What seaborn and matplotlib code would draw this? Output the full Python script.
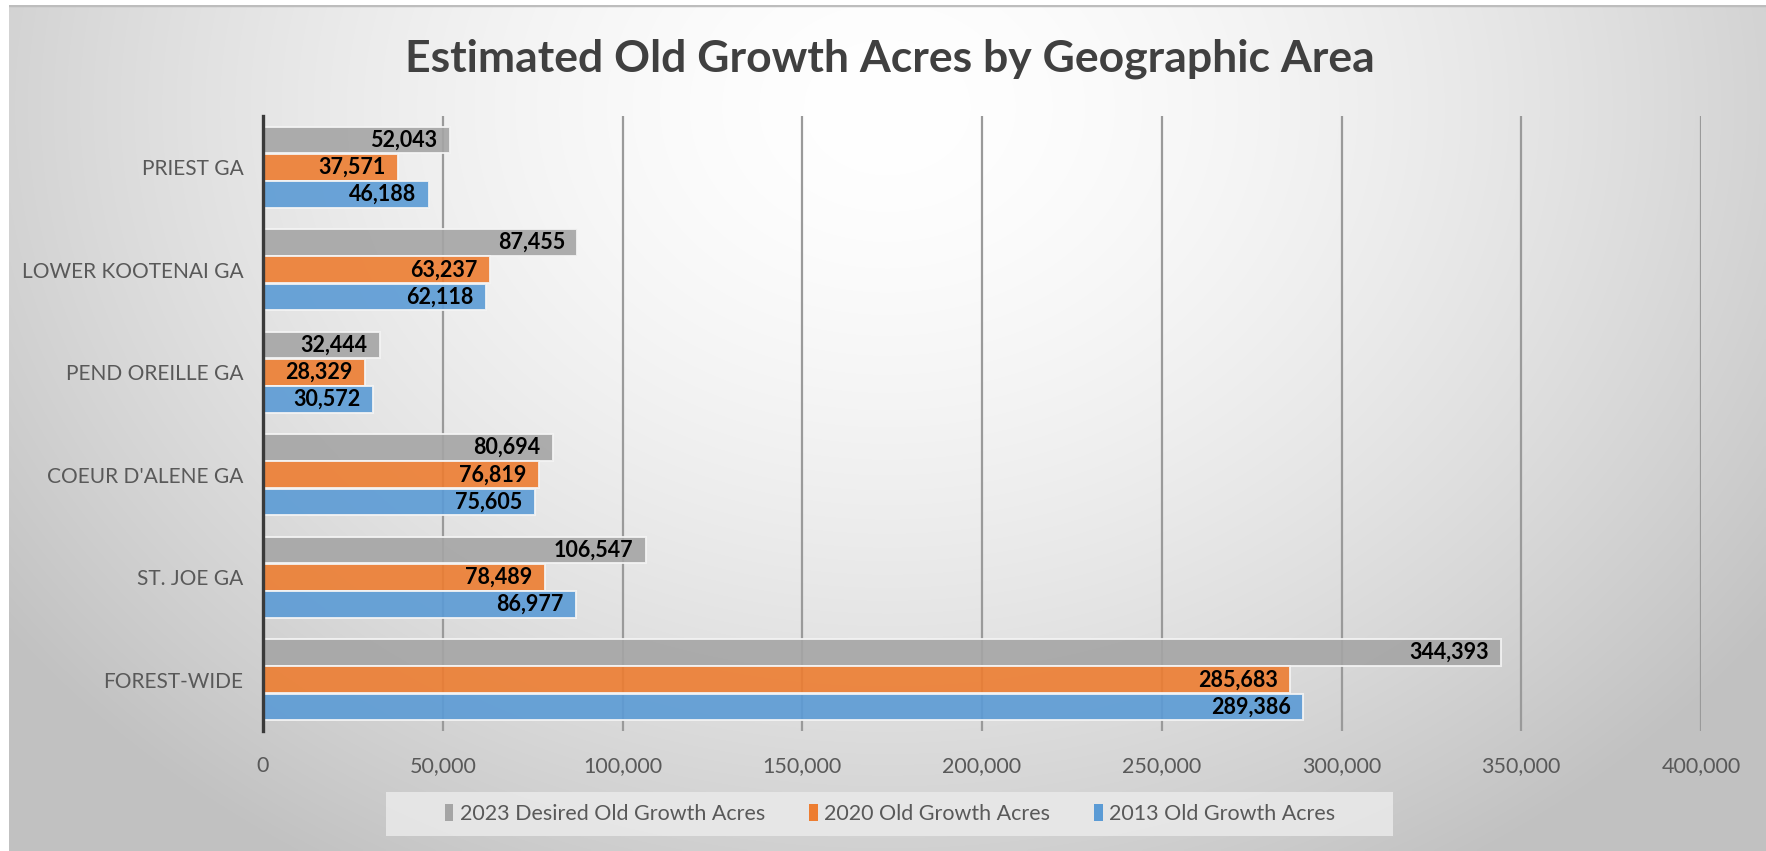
import numpy as np
import pandas as pd
import matplotlib
matplotlib.use("Agg")
import matplotlib.pyplot as plt
from matplotlib.patches import Patch, Rectangle
from matplotlib.ticker import FuncFormatter
import seaborn as sns

# ---- data -------------------------------------------------------------
areas = ["PRIEST GA", "LOWER KOOTENAI GA", "PEND OREILLE GA",
         "COEUR D'ALENE GA", "ST. JOE GA", "FOREST-WIDE"]
series_names = ["2023 Desired Old Growth Acres",
                "2020 Old Growth Acres",
                "2013 Old Growth Acres"]
desired_2023 = [52043, 87455, 32444, 80694, 106547, 344393]
old_growth_2020 = [37571, 63237, 28329, 76819, 78489, 285683]
old_growth_2013 = [46188, 62118, 30572, 75605, 86977, 289386]
series_colors = ["#A5A5A5", "#ED7D31", "#5B9BD5"]
x_ticks = [0, 50000, 100000, 150000, 200000, 250000, 300000, 350000, 400000]

values = [desired_2023, old_growth_2020, old_growth_2013]
df = pd.DataFrame({
    "area": np.tile(areas, len(series_names)),
    "series": np.repeat(series_names, len(areas)),
    "acres": np.concatenate(values),
})

sns.set_theme(style="white")
plt.rcParams["font.family"] = ["Lato", "DejaVu Sans"]

W, H = 1766, 851
fig = plt.figure(figsize=(W / 100, H / 100), dpi=100)
fig.patch.set_facecolor("white")

# radial grey gradient backdrop
bg = fig.add_axes([9 / W, 0, 1 - 9 / W, 1 - 5 / H], zorder=-10)
gx = np.linspace(0, 1, 600)
gy = np.linspace(0, 1, 300)
XX, YY = np.meshgrid(gx, gy)
r = np.sqrt(((XX - 0.5) / 0.62) ** 2 + ((YY - 0.12) / 1.05) ** 2)
shade = np.clip(1.0 - 0.24 * r ** 1.6, 0.76, 1.0)
bg.imshow(np.dstack([shade] * 3), aspect="auto", extent=[0, 1, 1, 0],
          interpolation="bilinear")
bg.axhline(0.0, color="#BDBDBD", lw=2.5)
bg.set_axis_off()

ax = fig.add_axes([263 / W, 1 - 731 / H, (1701 - 263) / W, (731 - 116) / H])
ax.patch.set_alpha(0)

sns.barplot(data=df, y="area", x="acres", hue="series", orient="h",
            order=areas, hue_order=series_names, palette=series_colors,
            saturation=1, width=0.8, gap=0.02, alpha=0.9,
            edgecolor="#F4F4F4", linewidth=1.4, ax=ax, legend=False, zorder=3)

for container, vals in zip(ax.containers, values):
    for patch, v in zip(container.patches, vals):
        yc = patch.get_y() + patch.get_height() / 2
        ax.annotate(f"{v:,}", xy=(v, yc), xytext=(-9, 0),
                    textcoords="offset points", ha="right", va="center",
                    fontsize=15.5, fontweight="bold", color="black", zorder=5)

ax.set_xlim(0, 400000)
ax.set_ylim(5.5, -0.5)
ax.set_xticks(x_ticks)
ax.xaxis.set_major_formatter(FuncFormatter(lambda v, p: f"{int(v):,}"))
ax.grid(axis="x", color="#9A9A9A", lw=1.6, zorder=0)
ax.grid(axis="y", visible=False)
ax.set_axisbelow(True)
for s in ["top", "right", "bottom"]:
    ax.spines[s].set_visible(False)
ax.spines["left"].set_color("#3A3A3A")
ax.spines["left"].set_linewidth(2.4)
ax.spines["left"].set_zorder(6)
ax.tick_params(axis="x", length=0, pad=18, labelsize=15.5, labelcolor="#595959")
ax.tick_params(axis="y", length=0, pad=14, labelsize=15, labelcolor="#595959")
ax.set_xlabel("")
ax.set_ylabel("")

fig.text(0.504, 1 - 59 / H, "Estimated Old Growth Acres by Geographic Area",
         ha="center", va="center", fontsize=32, fontweight="bold",
         color="#404040")

# legend panel, drawn behind the axes
fig.patches.append(Rectangle((386 / W, 1 - 836 / H), (1393 - 386) / W,
                             (836 - 792) / H, transform=fig.transFigure,
                             facecolor="#EAEAEA", edgecolor="none",
                             alpha=0.85, zorder=-5))
handles = [Patch(facecolor=c, edgecolor="none") for c in series_colors]
leg = ax.legend(handles, series_names, loc="center",
                bbox_to_anchor=(0.504, 1 - 814 / H),
                bbox_transform=fig.transFigure, ncol=3, frameon=False,
                fontsize=15.5, handlelength=0.4, handleheight=0.8,
                handletextpad=0.3, columnspacing=2.05,
                borderpad=0, borderaxespad=0)
for t in leg.get_texts():
    t.set_color("#595959")

fig.savefig("out.png", dpi=100)
